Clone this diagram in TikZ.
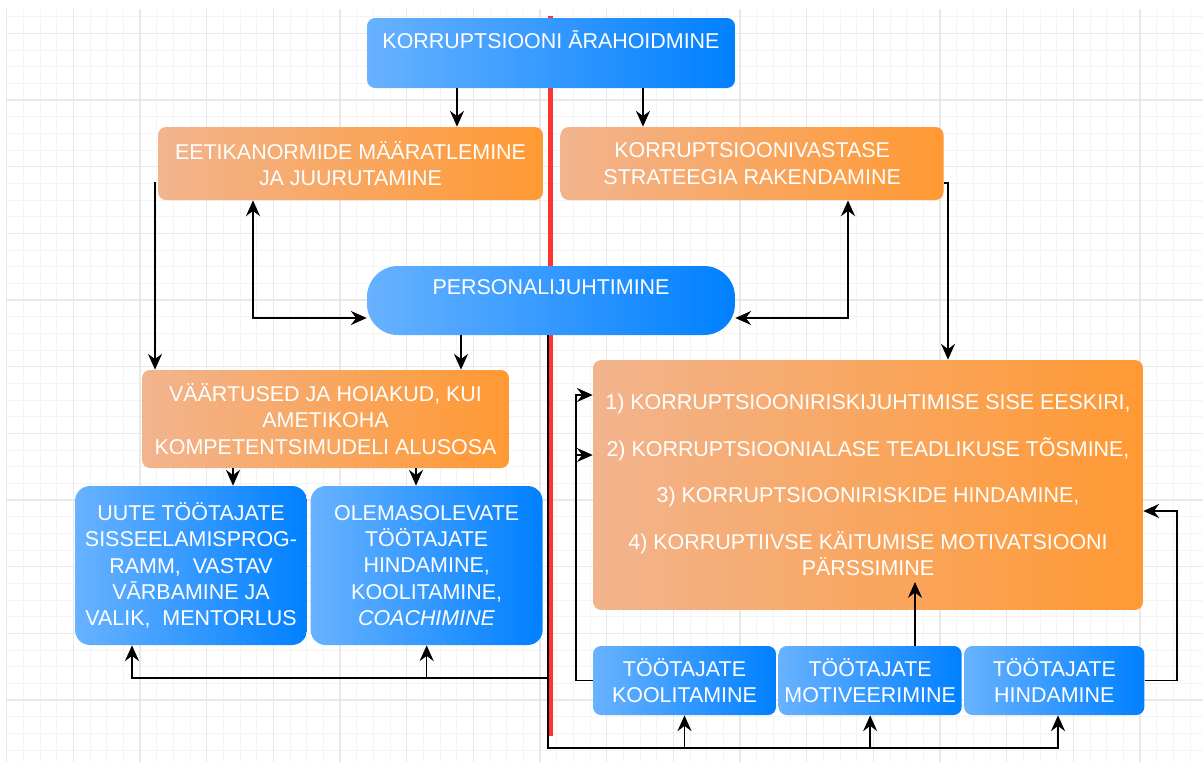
\documentclass[tikz,border=0pt]{standalone}
\usepackage{fontspec}
\setmainfont{Liberation Sans}
\usetikzlibrary{arrows.meta, positioning, backgrounds}
\definecolor{blueleft}{RGB}{104,178,255}
\definecolor{blueright}{RGB}{0,128,255}
\definecolor{orangeleft}{RGB}{242,180,142}
\definecolor{orangeright}{RGB}{255,153,51}
\definecolor{divider}{RGB}{255,51,51}
\definecolor{gridminor}{RGB}{244,244,244}
\definecolor{gridmajor}{RGB}{233,233,233}

\begin{document}
\begin{tikzpicture}[x=0.02cm, y=-0.02cm, >={Stealth[length=9pt, width=8pt, inset=3pt]},
    font=\fontsize{12.2}{15}\selectfont]
\tikzstyle{box} = [rectangle, inner sep=1pt, text=white, align=center, rounded corners=0.16cm]
\tikzstyle{blue block} = [box, left color=blueleft, right color=blueright]
\tikzstyle{orange block} = [box, left color=orangeleft, right color=orangeright]
\tikzstyle{line} = [draw, line width=0.9pt, ->]
\tikzstyle{both line} = [draw, line width=0.9pt, <->]
\tikzstyle{divider line} = [draw=divider, line width=0.1cm]
\useasboundingbox (0,0) rectangle (1203,762);

    % Place nodes
    \node [blue block, minimum width=7.36cm, minimum height=1.4cm] (top) at (551,53)
        {KORRUPTSIOONI ĀRAHOIDMINE\\\mbox{}};
    \node [orange block, minimum width=7.7cm, minimum height=1.46cm] (eetika) at (350.5,163.5)
        {EETIKANORMIDE MÄÄRATLEMINE\\JA JUURUTAMINE};
    \node [orange block, minimum width=7.66cm, minimum height=1.46cm, right=0.34cm of eetika] (strateegia)
        {KORRUPTSIOONIVASTASE\\STRATEEGIA RAKENDAMINE};
    \node [blue block, rounded corners=0.62cm, minimum width=7.36cm, minimum height=1.38cm] (personal) at (551,300.5)
        {PERSONALIJUHTIMINE\\\mbox{}};
    \node [orange block, minimum width=7.34cm, minimum height=1.96cm] (vaartused) at (325.5,419)
        {VÄÄRTUSED JA HOIAKUD, KUI\\AMETIKOHA\\KOMPETENTSIMUDELI ALUSOSA};
    \node [blue block, rounded corners=0.3cm, minimum width=4.64cm, minimum height=3.18cm] (uued) at (191,565.5)
        {UUTE TÖÖTAJATE\\SISSEELAMISPROG-\\RAMM, \ VASTAV\\VĀRBAMINE JA\\VALIK, \ MENTORLUS};
    \node [blue block, rounded corners=0.3cm, minimum width=4.64cm, minimum height=3.18cm, right=0.06cm of uued] (olemas)
        {OLEMASOLEVATE\\TÖÖTAJATE\\HINDAMINE,\\KOOLITAMINE,\\\textit{COACHIMINE}};
    \node [orange block, minimum width=11cm, minimum height=5cm] (meetmed) at (868,485)
        {1) KORRUPTSIOONIRISKIJUHTIMISE SISE EESKIRI,\\[0.4cm]
         2) KORRUPTSIOONIALASE TEADLIKUSE TÕSMINE,\\[0.4cm]
         3) KORRUPTSIOONIRISKIDE HINDAMINE,\\[0.4cm]
         4) KORRUPTIIVSE KÄITUMISE MOTIVATSIOONI\\PÄRSSIMINE};
    \node [blue block, minimum width=3.66cm, minimum height=1.38cm] (koolitamine) at (684.5,680.5)
        {TÖÖTAJATE\\KOOLITAMINE};
    \node [blue block, minimum width=3.66cm, minimum height=1.38cm, right=0.04cm of koolitamine] (motiveerimine)
        {TÖÖTAJATE\\MOTIVEERIMINE};
    \node [blue block, minimum width=3.6cm, minimum height=1.38cm, right=0.04cm of motiveerimine] (hindamine)
        {TÖÖTAJATE\\HINDAMINE};

    \coordinate (eetikaout) at (155,182);
    \coordinate (parssimine) at (915,582);
    \coordinate (busleft) at (548,678);
    \coordinate (busbottom) at (548,748);

%grid and divider
\begin{scope}[on background layer]
    \fill [white] (0,0) rectangle (1203,762);
    \foreach \i in {0,...,71}
        \draw [gridminor, line width=0.5pt] ({6.67+16.667*\i},9) -- ({6.67+16.667*\i},762);
    \foreach \j in {1,...,45}
        \draw [gridminor, line width=0.5pt] (6.67,{16.667*\j}) -- (1203,{16.667*\j});
    \foreach \i in {0,...,17}
        \draw [gridmajor, line width=0.6pt] ({6.67+66.667*\i},9) -- ({6.67+66.667*\i},762);
    \foreach \j in {0,...,10}
        \draw [gridmajor, line width=0.6pt] (6.67,{33.333+66.667*\j}) -- (1203,{33.333+66.667*\j});
    \path [divider line] (550,16) -- (550,736);
\end{scope}

%paths
    \path [line] (top.south -| 457,0) -- (eetika.north -| 457,0);
    \path [line] (top.south -| 643,0) -- (strateegia.north -| 643,0);
    \path [line] (eetikaout) -- (vaartused.north -| eetikaout);
    \path [both line] (eetika.south -| 253,0) |- (personal.west |- 0,318);
    \path [both line] (strateegia.south -| 848,0) |- (personal.east |- 0,318);
    \path [line] (strateegia.east |- 0,183) -| (meetmed.north -| 948,0);
    \path [line] (personal.south -| 461,0) -- (vaartused.north -| 461,0);
    \path [line] (vaartused.south -| 233,0) -- (uued.north -| 233,0);
    \path [line] (vaartused.south -| 416,0) -- (olemas.north -| 416,0);

    \path [line] (personal.south -| busbottom) -- (busbottom) -| (hindamine.south -| 1058,0);
    \path [line] (busbottom -| koolitamine.south) -- (koolitamine.south);
    \path [line] (busbottom -| motiveerimine.south) -- (motiveerimine.south);
    \path [line] (busleft) -| (uued.south -| 132,0);
    \path [line] (busleft -| olemas.south) -- (olemas.south);

    \path [line] (koolitamine.west) -- (koolitamine.west -| 576,0) |- (meetmed.west |- 0,395);
    \path [line] (koolitamine.west -| 576,0) |- (meetmed.west |- 0,455);
    \path [line] (motiveerimine.north -| parssimine) -- (parssimine);
    \path [line] (hindamine.east) -- (hindamine.east -| 1177,0) |- (meetmed.east |- 0,511);

\end{tikzpicture}
\end{document}
